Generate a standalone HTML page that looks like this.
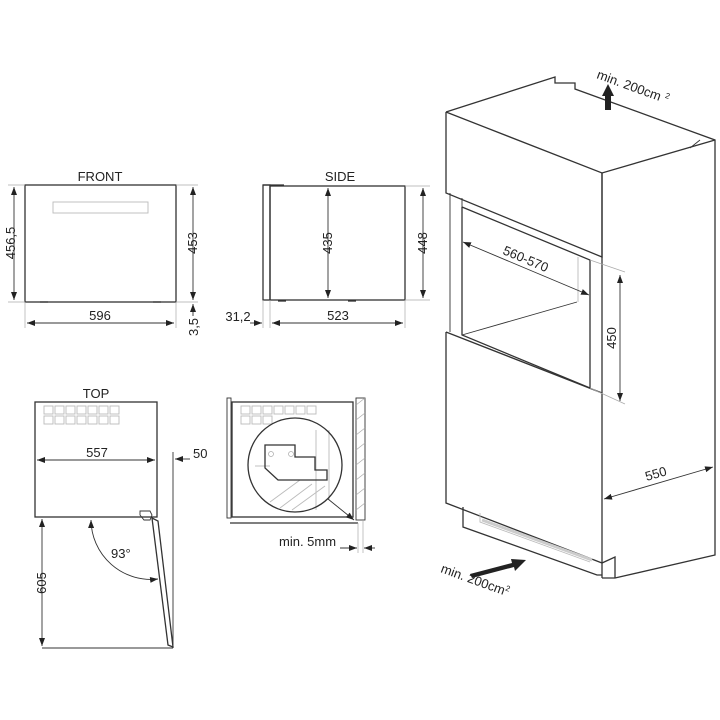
<!DOCTYPE html>
<html><head><meta charset="utf-8"><style>
html,body{margin:0;padding:0;background:#fff;}
svg{display:block}
text{font-family:"Liberation Sans",Arial,sans-serif;fill:#222;font-size:13px}
.s{stroke:#333;stroke-width:1.3;fill:none}
.t{stroke:#333;stroke-width:0.9;fill:none}
.g{stroke:#aaa;stroke-width:0.7;fill:none}
.lg{stroke:#bbb;stroke-width:0.9;fill:none}
</style></head><body>
<svg width="720" height="720" viewBox="0 0 720 720" xmlns="http://www.w3.org/2000/svg">
<defs>
<marker id="a" markerWidth="8" markerHeight="6" refX="8" refY="3" orient="auto" markerUnits="userSpaceOnUse"><path d="M0,0 L8,3 L0,6 z" fill="#222"/></marker>
<marker id="b" markerWidth="8" markerHeight="6" refX="0" refY="3" orient="auto" markerUnits="userSpaceOnUse"><path d="M8,0 L0,3 L8,6 z" fill="#222"/></marker>
</defs>

<!-- FRONT -->
<text x="100" y="181" text-anchor="middle">FRONT</text>
<rect x="25" y="185" width="151" height="117" class="s"/>
<rect x="53" y="202" width="95" height="11" class="lg"/>
<line x1="40" y1="302" x2="48" y2="302" class="s" stroke-width="2"/>
<line x1="153" y1="302" x2="161" y2="302" class="s" stroke-width="2"/>
<line x1="8" y1="185" x2="25" y2="185" class="g"/>
<line x1="8" y1="302" x2="25" y2="302" class="g"/>
<line x1="176" y1="185" x2="198" y2="185" class="g"/>
<line x1="176" y1="302" x2="198" y2="302" class="g"/>
<line x1="25" y1="302" x2="25" y2="328" class="g"/>
<line x1="176" y1="302" x2="176" y2="328" class="g"/>
<line x1="14" y1="187" x2="14" y2="300" class="t" marker-start="url(#b)" marker-end="url(#a)"/>
<text transform="translate(15,243) rotate(-90)" text-anchor="middle">456,5</text>
<line x1="193" y1="187" x2="193" y2="300" class="t" marker-start="url(#b)" marker-end="url(#a)"/>
<text transform="translate(197,243) rotate(-90)" text-anchor="middle">453</text>
<line x1="27" y1="323" x2="174" y2="323" class="t" marker-start="url(#b)" marker-end="url(#a)"/>
<text x="100" y="320" text-anchor="middle">596</text>
<line x1="193" y1="316" x2="193" y2="304" class="t" marker-end="url(#a)"/>
<text transform="translate(198,327) rotate(-90)" text-anchor="middle">3,5</text>

<!-- SIDE -->
<text x="340" y="181" text-anchor="middle">SIDE</text>
<rect x="263" y="185" width="7" height="115" class="s"/>
<rect x="270" y="186" width="135" height="114" class="s"/>
<line x1="263" y1="185" x2="284" y2="185" class="s" stroke-width="2"/>
<line x1="278" y1="301" x2="286" y2="301" class="s" stroke-width="2"/>
<line x1="348" y1="301" x2="356" y2="301" class="s" stroke-width="2"/>
<line x1="328" y1="188" x2="328" y2="298" class="t" marker-start="url(#b)" marker-end="url(#a)"/>
<text transform="translate(332,243) rotate(-90)" text-anchor="middle">435</text>
<line x1="405" y1="186" x2="430" y2="186" class="g"/>
<line x1="405" y1="300" x2="430" y2="300" class="g"/>
<line x1="423" y1="188" x2="423" y2="298" class="t" marker-start="url(#b)" marker-end="url(#a)"/>
<text transform="translate(427,243) rotate(-90)" text-anchor="middle">448</text>
<line x1="263" y1="300" x2="263" y2="328" class="g"/>
<line x1="270" y1="300" x2="270" y2="328" class="g"/>
<line x1="405" y1="300" x2="405" y2="328" class="g"/>
<line x1="272" y1="323" x2="403" y2="323" class="t" marker-start="url(#b)" marker-end="url(#a)"/>
<text x="338" y="320" text-anchor="middle">523</text>
<line x1="250" y1="323" x2="262" y2="323" class="t" marker-end="url(#a)"/>
<text x="238" y="321" text-anchor="middle">31,2</text>

<!-- TOP -->
<text x="96" y="398" text-anchor="middle">TOP</text>
<rect x="35" y="402" width="122" height="115" class="s"/>
<g class="lg" stroke-width="0.8">
<rect x="44" y="406" width="9" height="8"/><rect x="55" y="406" width="9" height="8"/><rect x="66" y="406" width="9" height="8"/><rect x="77" y="406" width="9" height="8"/><rect x="88" y="406" width="9" height="8"/><rect x="99" y="406" width="9" height="8"/><rect x="110" y="406" width="9" height="8"/>
<rect x="44" y="416" width="9" height="8"/><rect x="55" y="416" width="9" height="8"/><rect x="66" y="416" width="9" height="8"/><rect x="77" y="416" width="9" height="8"/><rect x="88" y="416" width="9" height="8"/><rect x="99" y="416" width="9" height="8"/><rect x="110" y="416" width="9" height="8"/>
</g>
<line x1="37" y1="460" x2="155" y2="460" class="t" marker-start="url(#b)" marker-end="url(#a)"/>
<text x="97" y="457" text-anchor="middle">557</text>
<path d="M140,515 L140,511 L150,511 L152,515 L150,520 L144,520 Z" class="t"/>
<path d="M152,518 L158,521 L173,647 L168,645 Z" class="s"/>
<line x1="173" y1="452" x2="173" y2="645" class="t"/>
<line x1="190" y1="459" x2="175" y2="459" class="t" marker-end="url(#a)"/>
<text x="193" y="458">50</text>
<line x1="42" y1="519" x2="42" y2="646" class="t" marker-start="url(#b)" marker-end="url(#a)"/>
<text transform="translate(46,583) rotate(-90)" text-anchor="middle">605</text>
<line x1="42" y1="648" x2="173" y2="648" class="t"/>
<path d="M91,520 A60,60 0 0 0 158,579" class="t" marker-start="url(#b)" marker-end="url(#a)"/>
<text x="111" y="558">93°</text>

<!-- detail -->
<rect x="232" y="402" width="121" height="115" class="s"/>
<rect x="227" y="398" width="4" height="120" class="t"/>
<rect x="356" y="398" width="9" height="122" class="t"/>
<g class="g"><line x1="356" y1="405" x2="365" y2="398"/><line x1="356" y1="420" x2="365" y2="413"/><line x1="356" y1="435" x2="365" y2="428"/><line x1="356" y1="450" x2="365" y2="443"/><line x1="356" y1="465" x2="365" y2="458"/><line x1="356" y1="480" x2="365" y2="473"/><line x1="356" y1="495" x2="365" y2="488"/><line x1="356" y1="510" x2="365" y2="503"/></g>
<line x1="230" y1="523" x2="358" y2="523" class="s"/>
<g class="lg" stroke-width="0.8">
<rect x="241" y="406" width="9" height="8"/><rect x="252" y="406" width="9" height="8"/><rect x="263" y="406" width="9" height="8"/><rect x="274" y="406" width="9" height="8"/><rect x="285" y="406" width="9" height="8"/><rect x="296" y="406" width="9" height="8"/><rect x="307" y="406" width="9" height="8"/>
<rect x="241" y="416" width="9" height="8"/><rect x="252" y="416" width="9" height="8"/><rect x="263" y="416" width="9" height="8"/>
<line x1="316" y1="430" x2="316" y2="510"/><line x1="329" y1="430" x2="329" y2="500"/>
<line x1="255" y1="466" x2="270" y2="466"/>
<line x1="270" y1="502" x2="300" y2="480"/><line x1="280" y1="508" x2="312" y2="484"/><line x1="292" y1="510" x2="325" y2="486"/>
</g>
<circle cx="295" cy="465" r="47" class="s"/>
<path d="M265,445 L295,445 L295,457 L315,457 L315,470 L327,470 L327,480 L278,480 L265,468 Z" class="s"/>
<circle cx="271" cy="454" r="2.5" class="g"/><circle cx="291" cy="454" r="2.5" class="g"/>
<line x1="328" y1="499" x2="354" y2="520" class="t" marker-end="url(#a)"/>
<line x1="358" y1="523" x2="358" y2="553" class="g"/>
<line x1="363" y1="520" x2="363" y2="553" class="g"/>
<line x1="340" y1="548" x2="357" y2="548" class="t" marker-end="url(#a)"/>
<line x1="375" y1="548" x2="364" y2="548" class="t" marker-end="url(#a)"/>
<text x="279" y="546">min. 5mm</text>

<!-- CABINET -->
<path d="M446,112 L555,77 L555,83 L575,83 L575,89 L715,140 L715,555 L615,578 L602,578" class="s"/>
<path d="M446,112 L602,173 L715,140" class="s"/>
<line x1="690" y1="148" x2="700" y2="140" class="t"/>
<path d="M446,112 L446,193 L602,257 L602,173" class="s"/>
<line x1="602" y1="173" x2="602" y2="578" class="s"/>
<path d="M450,193 L450,332 M462,198 L462,335" class="t"/>
<path d="M462,207 L590,260 L590,388" class="s"/>
<path d="M462,207 L462,335 L590,388" class="s"/>
<path d="M462,335 L577,302" class="t"/>
<path d="M578,257 L578,302" class="lg"/>
<path d="M446,332 L602,393 M446,332 L446,503 L602,563" class="s"/>
<path d="M463,507 L463,527 L597,575 L602,575" class="s"/>
<path d="M480,513 L480,522 L590,562" class="lg"/>
<path d="M482,520 L592,560" stroke="#ccc" stroke-width="3"/>
<path d="M602,563 L615,557 L615,578" class="s"/>
<line x1="463" y1="242" x2="589" y2="295" class="t" marker-start="url(#b)" marker-end="url(#a)"/>
<text transform="translate(524,263) rotate(22.8)" text-anchor="middle">560-570</text>
<line x1="590" y1="260" x2="625" y2="272" class="g"/>
<line x1="590" y1="388" x2="625" y2="404" class="g"/>
<line x1="620" y1="275" x2="620" y2="401" class="t" marker-start="url(#b)" marker-end="url(#a)"/>
<text transform="translate(616,338) rotate(-90)" text-anchor="middle">450</text>
<line x1="604" y1="499" x2="713" y2="467" class="t" marker-start="url(#b)" marker-end="url(#a)"/>
<text transform="translate(657,478) rotate(-16)" text-anchor="middle">550</text>
<path d="M605,110 L605,96 L602,96 L608,84 L614,96 L611,96 L611,110 Z" fill="#222"/>
<text transform="translate(596,78) rotate(20)">min. 200cm<tspan dx="4" dy="-5" font-size="8">2</tspan></text>
<path d="M470,574 L512,563 L511,559 L526,560 L515,571 L514,567 L472,578 Z" fill="#222"/>
<text transform="translate(440,572) rotate(20)">min. 200cm<tspan dy="-5" font-size="8">2</tspan></text>
</svg>
</body></html>
